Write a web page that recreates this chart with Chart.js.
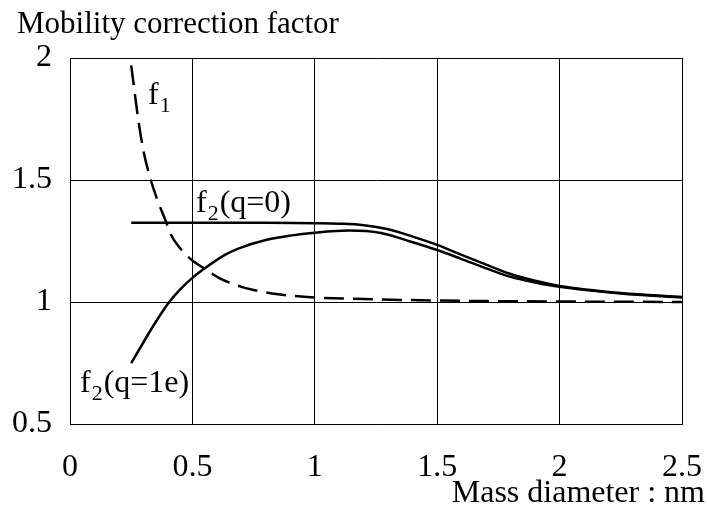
<!DOCTYPE html>
<html>
<head>
<meta charset="utf-8">
<script src="https://cdn.jsdelivr.net/npm/chart.js@4.4.1/dist/chart.umd.min.js"></script>
<style>
  html, body { margin: 0; padding: 0; background: #fff; }
  #wrap { width: 707px; height: 511px; }
</style>
</head>
<body>
<div id="wrap"><canvas id="mobChart" width="707" height="511"></canvas></div>
<script>
// 読み取り値（図から目測）
const f1X = [0.25, 0.28, 0.3, 0.33, 0.36, 0.39, 0.41, 0.45, 0.5, 0.545, 0.61, 0.7, 0.75, 0.85, 0.97, 1.2, 1.5, 2.0, 2.5];
const f1Y = [1.97, 1.74, 1.62, 1.5, 1.41, 1.335, 1.28, 1.22, 1.17, 1.14, 1.098, 1.062, 1.049, 1.032, 1.02, 1.012, 1.006, 1.002, 1.0];

const q0X = [0.25, 0.8, 1.0, 1.1, 1.2, 1.3, 1.4, 1.5, 1.6, 1.7, 1.8, 1.9, 2.0, 2.25, 2.5];
const q0Y = [1.325, 1.325, 1.323, 1.321, 1.315, 1.298, 1.268, 1.234, 1.193, 1.153, 1.115, 1.087, 1.066, 1.037, 1.02];

const q1X = [0.25, 0.3, 0.35, 0.4, 0.45, 0.5, 0.545, 0.633, 0.69, 0.8, 0.9, 1.0, 1.14, 1.27, 1.4, 1.5, 1.6, 1.7, 1.8, 1.9, 2.0, 2.25, 2.5];
const q1Y = [0.749, 0.835, 0.918, 0.993, 1.052, 1.099, 1.134, 1.193, 1.22, 1.254, 1.272, 1.284, 1.293, 1.283, 1.245, 1.213, 1.176, 1.138, 1.103, 1.08, 1.062, 1.035, 1.018];

const xTicks = [0, 0.5, 1, 1.5, 2, 2.5];
const yTicks = [0.5, 1, 1.5, 2];

const FONT = "'Liberation Serif', 'DejaVu Serif', serif";

const pts = (xs, ys) => xs.map((x, i) => ({ x, y: ys[i] }));

// 注記テキスト（添字つき）
function subText(ctx, x, y, base, sub, rest) {
  ctx.font = "32px " + FONT;
  ctx.fillText(base, x, y);
  let w = ctx.measureText(base).width;
  ctx.font = "22px " + FONT;
  ctx.fillText(sub, x + w + 1, y + 8);
  w += ctx.measureText(sub).width + 2;
  ctx.font = "32px " + FONT;
  if (rest) ctx.fillText(rest, x + w, y);
}

const labelsPlugin = {
  id: "labels",
  afterDraw(chart) {
    const ctx = chart.ctx;
    ctx.save();
    ctx.fillStyle = "#000";
    ctx.textBaseline = "alphabetic";
    ctx.textAlign = "left";
    ctx.font = "31px " + FONT;
    ctx.fillText("Mobility correction factor", 17, 33);
    ctx.textAlign = "right";
    ctx.font = "32px " + FONT;
    ctx.fillText("Mass diameter : nm", 705, 502);
    ctx.textAlign = "left";
    subText(ctx, 148, 104, "f", "1", "");
    subText(ctx, 196, 212, "f", "2", "(q=0)");
    subText(ctx, 80, 392, "f", "2", "(q=1e)");
    ctx.restore();
  }
};

new Chart(document.getElementById("mobChart"), {
  type: "line",
  data: {
    datasets: [
      {
        label: "f1",
        data: pts(f1X, f1Y),
        borderColor: "#000",
        borderWidth: 2.5,
        borderDash: [20, 9],
        pointRadius: 0,
        cubicInterpolationMode: "monotone",
        fill: false
      },
      {
        label: "f2(q=0)",
        data: pts(q0X, q0Y),
        borderColor: "#000",
        borderWidth: 2.5,
        pointRadius: 0,
        cubicInterpolationMode: "monotone",
        fill: false
      },
      {
        label: "f2(q=1e)",
        data: pts(q1X, q1Y),
        borderColor: "#000",
        borderWidth: 2.5,
        pointRadius: 0,
        cubicInterpolationMode: "monotone",
        fill: false
      }
    ]
  },
  options: {
    responsive: false,
    animation: false,
    devicePixelRatio: 1,
    layout: { padding: { top: 58, right: 25, left: 0, bottom: 0 } },
    plugins: {
      legend: { display: false },
      tooltip: { enabled: false }
    },
    scales: {
      x: {
        type: "linear",
        min: 0,
        max: 2.5,
        afterBuildTicks: s => { s.ticks = xTicks.map(v => ({ value: v })); },
        afterFit: s => { s.height = 87; s.paddingLeft = 0; s.paddingRight = 0; },
        grid: { color: "#000", lineWidth: 1, drawTicks: false },
        border: { color: "#000", width: 1 },
        ticks: {
          color: "#000",
          padding: 24,
          font: { family: FONT, size: 32 },
          maxRotation: 0,
          callback: v => String(v)
        }
      },
      y: {
        min: 0.5,
        max: 2,
        afterBuildTicks: s => { s.ticks = yTicks.map(v => ({ value: v })); },
        afterFit: s => { s.width = 70; s.paddingTop = 0; s.paddingBottom = 0; },
        grid: { color: "#000", lineWidth: 1, drawTicks: false },
        border: { color: "#000", width: 1 },
        ticks: {
          color: "#000",
          padding: 18,
          font: { family: FONT, size: 32 },
          callback: v => String(v)
        }
      }
    }
  },
  plugins: [labelsPlugin]
});
</script>
</body>
</html>
